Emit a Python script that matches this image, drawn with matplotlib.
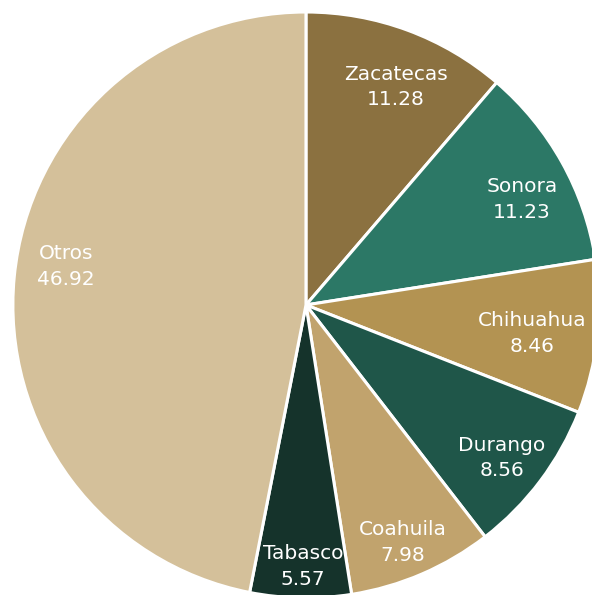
import matplotlib
matplotlib.use("Agg")
import matplotlib.pyplot as plt
import numpy as np

estados = ["Zacatecas", "Sonora", "Chihuahua", "Durango", "Coahuila", "Tabasco", "Otros"]
valores = [11.28, 11.23, 8.46, 8.56, 7.98, 5.57, 46.92]
colores = ["#8B7140", "#2C7866", "#B39352", "#1F5649", "#C1A36D", "#15332B", "#D4C09A"]

# ajuste manual de la posicion de cada etiqueta (distancia al centro, giro en grados)
dist_etq = [0.805, 0.821, 0.778, 0.849, 0.877, 0.894, 0.83]
giro_etq = [-2.1, -3.1, -1.0, -1.1, -1.1, 0.4, -3.6]

fig = plt.figure(figsize=(5.92, 5.95), dpi=100)
ax = fig.add_axes([0, 0, 1, 1])

wedges, _ = ax.pie(valores, colors=colores, startangle=90, counterclock=False,
                   radius=1.0, wedgeprops=dict(edgecolor="white", linewidth=2.2))

# etiquetas dentro de cada rebanada
acum = 0
for nombre, v, d, g in zip(estados, valores, dist_etq, giro_etq):
    ang = np.deg2rad(90 - 3.6 * (acum + v / 2) + g)
    acum += v
    ax.text(d * np.cos(ang), d * np.sin(ang), f"{nombre}\n{v:.2f}",
            ha="center", va="center", color="white", fontsize=14.5,
            linespacing=1.45, family="DejaVu Sans")

ax.set_xlim(-1.044, 0.976)
ax.set_ylim(-0.990, 1.041)
ax.set_aspect("auto")
ax.axis("off")

fig.savefig("out.png", dpi=100)
